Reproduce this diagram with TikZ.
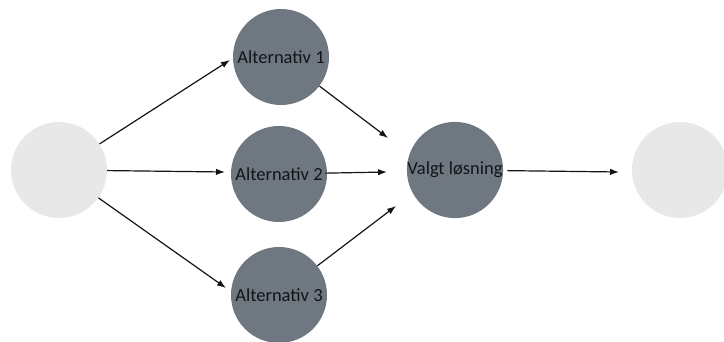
\documentclass[tikz,border=0pt]{standalone}
\usepackage{fontspec}
\setmainfont{Carlito}
\usetikzlibrary{arrows.meta}
\definecolor{slate}{RGB}{111,119,129}
\definecolor{pale}{RGB}{232,232,232}
\definecolor{ink}{RGB}{20,20,24}
\begin{document}
\begin{tikzpicture}[x=1pt,y=-1pt,
  ends/.style={circle,fill=pale,minimum size=96pt,inner sep=0pt},
  alt/.style={circle,fill=slate,minimum size=96pt,inner sep=0pt,
    text=ink,font=\fontsize{18.5}{20}\selectfont},
  arr/.style={-{Latex[length=9pt,width=6.5pt]},line width=1.2pt,draw=ink}]
\useasboundingbox (0,0) rectangle (724,342);
\begin{scope}
\clip (0,0) rectangle (724,342);
\node[ends] (L) at (59,170) {};
\node[alt] (A1) at (281,57) {Alternativ 1};
\node[alt] (A2) at (279,174) {Alternativ 2};
\node[alt] (A3) at (279,295) {Alternativ 3};
\node[alt] (V) at (455,170) {Valgt løsning};
\node[ends] (R) at (680,170) {};
\end{scope}
% arrow tips stop just short of the circles
\coordinate (t1) at (230,60);
\coordinate (t2) at (225,172);
\coordinate (t3) at (226,288);
\coordinate (t4) at (388,138);
\coordinate (t5) at (387,172);
\coordinate (t6) at (396,206);
\coordinate (t7) at (619,172);
\draw[arr] (L) -- (t1);
\draw[arr] (L) -- (t2);
\draw[arr] (L) -- (t3);
\draw[arr] (A1) -- (t4);
\draw[arr,shorten <=-2pt] (A2) -- (t5);
\draw[arr] (A3) -- (t6);
\draw[arr,shorten <=4pt] (V) -- (t7);
\end{tikzpicture}
\end{document}
